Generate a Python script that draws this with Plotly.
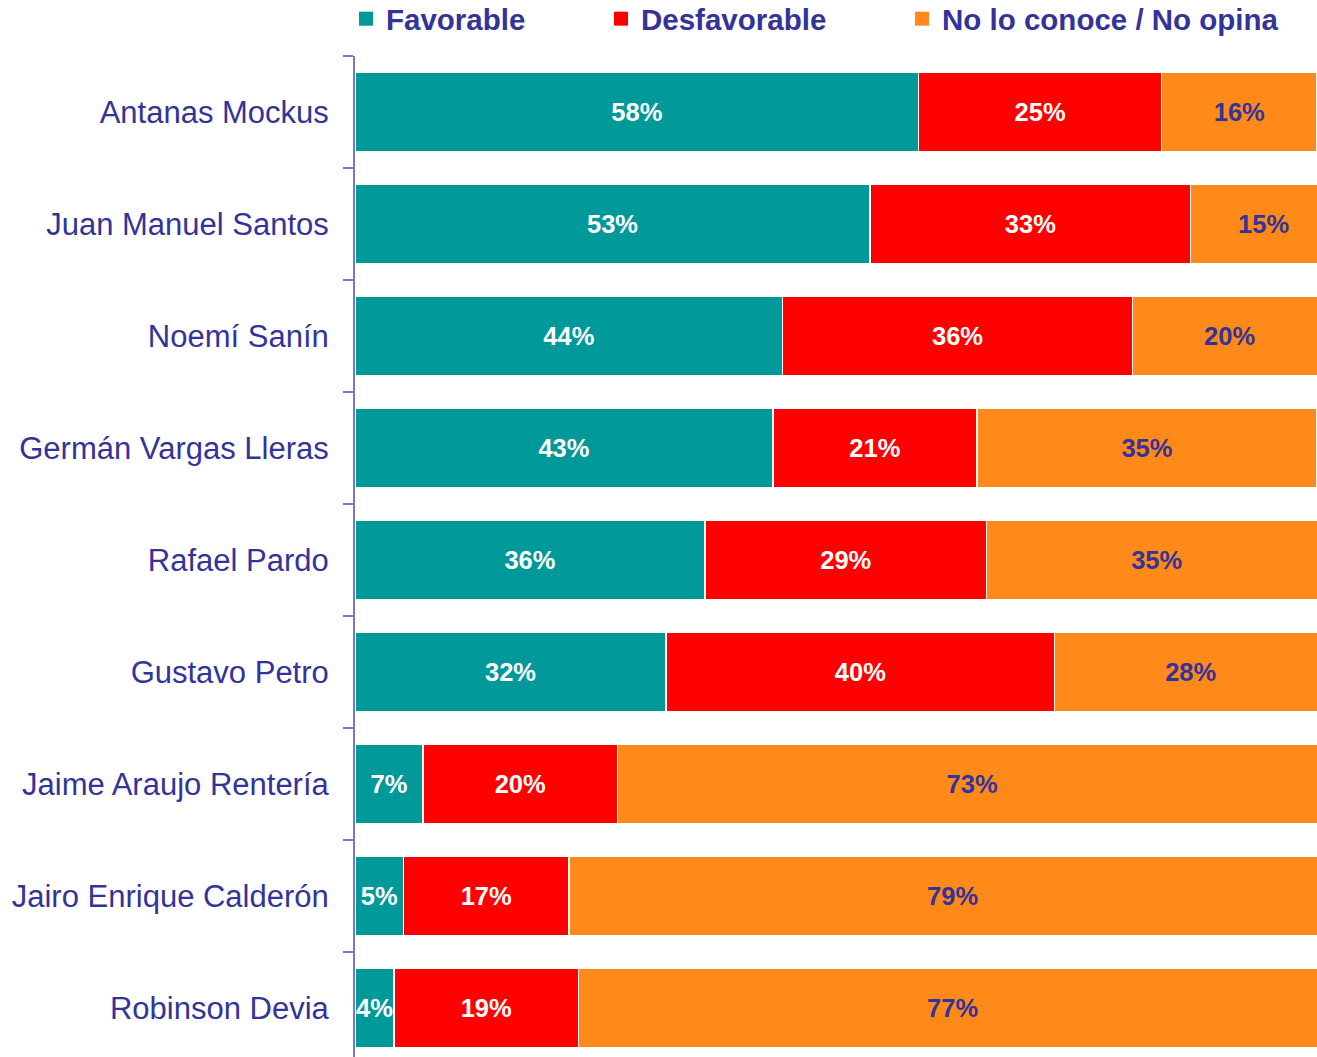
import plotly.graph_objects as go

candidates = ["Antanas Mockus", "Juan Manuel Santos", "Noemí Sanín", "Germán Vargas Lleras",
              "Rafael Pardo", "Gustavo Petro", "Jaime Araujo Rentería",
              "Jairo Enrique Calderón", "Robinson Devia"]
favorable = [58, 53, 44, 43, 36, 32, 7, 5, 4]
desfavorable = [25, 33, 36, 21, 29, 40, 20, 17, 19]
no_opina = [16, 15, 20, 35, 35, 28, 73, 79, 77]

series = [
    ("Favorable", favorable, "#009999", "white", "legend", 346),
    ("Desfavorable", desfavorable, "#FF0000", "white", "legend2", 601),
    ("No lo conoce / No opina", no_opina, "#FF8919", "#333399", "legend3", 902),
]

W, H = 1317, 1057
FONT = "Liberation Sans, Arial"
fig = go.Figure()
for name, vals, col, tcol, leg, _ in series:
    fig.add_trace(go.Bar(
        y=candidates, x=vals, name=name, orientation="h",
        marker=dict(color=col, line=dict(color="white", width=1.5)),
        width=0.705,
        texttemplate="%{x}%", textposition="inside", insidetextanchor="middle",
        textangle=0,
        textfont=dict(family=FONT, size=25.5, color=tcol, weight="bold"),
        showlegend=False,
    ))
# legend entries (square swatches)
for name, vals, col, tcol, leg, _ in series:
    fig.add_trace(go.Scatter(
        x=[None], y=[None], mode="markers", name=name,
        marker=dict(symbol="square", size=14, color=col),
        legend=leg, showlegend=True, hoverinfo="skip",
    ))

legend_common = dict(orientation="h", xref="container", yref="container",
                     yanchor="middle", xanchor="left", bgcolor="rgba(0,0,0,0)",
                     font=dict(family=FONT, size=29.5, color="#333399", weight="bold"),
                     itemsizing="trace")
layout_legends = {}
for name, vals, col, tcol, leg, xpx in series:
    layout_legends[leg] = dict(legend_common, x=xpx / W, y=1 - 19 / H)

fig.update_layout(
    width=W, height=H,
    barmode="stack",
    plot_bgcolor="white", paper_bgcolor="white",
    margin=dict(l=355, r=0, t=56, b=0),
    uniformtext=dict(minsize=25, mode="show"),
    xaxis=dict(range=[0, 99], visible=False, fixedrange=True),
    yaxis=dict(
        type="category", categoryorder="array", categoryarray=candidates,
        range=[8.4375, -0.5],
        showline=True, linecolor="#7777CC", linewidth=2,
        ticks="outside", tickson="boundaries", ticklen=10, tickcolor="#7777CC", tickwidth=1.5,
        ticklabelstandoff=18,
        tickfont=dict(family=FONT, size=31, color="#333399"),
        showgrid=False, zeroline=False,
    ),
    showlegend=True,
    **layout_legends,
)

fig.write_html(
    "out.html",
    config={"displayModeBar": False},
    post_script="document.body.style.margin='0';document.body.style.overflow='hidden';"
                "document.documentElement.style.overflow='hidden';",
)
